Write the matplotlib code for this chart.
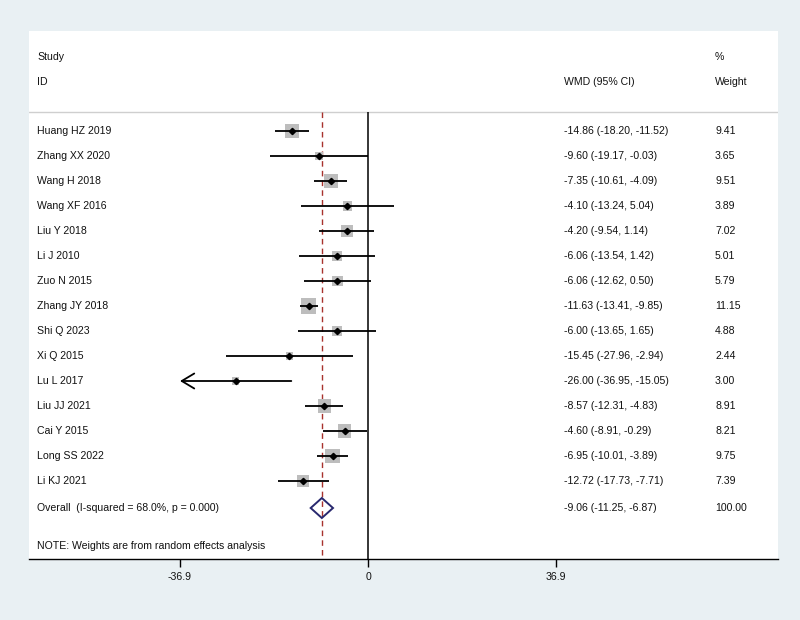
import numpy as np
import matplotlib
matplotlib.use("Agg")
import matplotlib.pyplot as plt
from matplotlib.patches import Polygon

plt.rcParams["font.family"] = ["Liberation Sans", "DejaVu Sans"]

# study data
studies = ["Huang HZ 2019", "Zhang XX 2020", "Wang H 2018", "Wang XF 2016",
           "Liu Y 2018", "Li J 2010", "Zuo N 2015", "Zhang JY 2018",
           "Shi Q 2023", "Xi Q 2015", "Lu L 2017", "Liu JJ 2021",
           "Cai Y 2015", "Long SS 2022", "Li KJ 2021"]
wmd = [-14.86, -9.60, -7.35, -4.10, -4.20, -6.06, -6.06, -11.63,
       -6.00, -15.45, -26.00, -8.57, -4.60, -6.95, -12.72]
ci_low = [-18.20, -19.17, -10.61, -13.24, -9.54, -13.54, -12.62, -13.41,
          -13.65, -27.96, -36.95, -12.31, -8.91, -10.01, -17.73]
ci_high = [-11.52, -0.03, -4.09, 5.04, 1.14, 1.42, 0.50, -9.85,
           1.65, -2.94, -15.05, -4.83, -0.29, -3.89, -7.71]
weights = [9.41, 3.65, 9.51, 3.89, 7.02, 5.01, 5.79, 11.15,
           4.88, 2.44, 3.00, 8.91, 8.21, 9.75, 7.39]

overall = -9.06
overall_low = -11.25
overall_high = -6.87
overall_label = "Overall  (I-squared = 68.0%, p = 0.000)"
note = "NOTE: Weights are from random effects analysis"
tick_vals = [-36.9, 0, 36.9]
tick_labels = ["-36.9", "0", "36.9"]

FS = 7.6
TC = "#111111"

fig = plt.figure(figsize=(8, 6.2), dpi=100, facecolor="#e9f0f3")
ax = fig.add_axes([29 / 800, 1 - 559 / 620, 749 / 800, 528 / 620])
ax.set_facecolor("white")

# x scale: 0 at 368px, 36.9 at 556px
ppu = 188 / 36.9
ax.set_xlim((29 - 368) / ppu, (778 - 368) / ppu)
# y rows: row r at 131 + 25 r px
ax.set_ylim((559 - 131) / 25, (31 - 131) / 25)

rows = np.arange(len(studies))
row_overall = (508 - 131) / 25
row_note = (546 - 131) / 25
row_sep = (112 - 131) / 25
bottom = ax.get_ylim()[0]

ax.axhline(row_sep, color="#cfcfcf", lw=1.0)
ax.vlines(0, row_sep, bottom, color="black", lw=1.1)
ax.vlines(overall, row_sep, bottom, color="#a8322d", lw=1.0,
          linestyles=(0, (4, 3)))

# weight squares
ax.scatter(wmd, rows, s=np.array(weights) * 10.8, marker="s",
           color="#bdbdbd", edgecolor="none", zorder=2)

xmin_tick = tick_vals[0]
for r, lo, hi in zip(rows, ci_low, ci_high):
    if lo < xmin_tick:
        ax.annotate("", xy=(xmin_tick, r), xytext=(hi, r),
                    arrowprops=dict(arrowstyle="->,head_length=0.5,head_width=0.3",
                                    lw=1.3, color="black", shrinkA=0, shrinkB=0,
                                    mutation_scale=18), zorder=3)
    else:
        ax.plot([lo, hi], [r, r], color="black", lw=1.3, zorder=3,
                solid_capstyle="butt")
ax.plot(wmd, rows, "D", color="black", markersize=3.2, zorder=4)

# overall diamond
dia = Polygon([(overall_low, row_overall), (overall, row_overall - 0.4),
               (overall_high, row_overall), (overall, row_overall + 0.4)],
              closed=True, facecolor="none", edgecolor="#28286e", lw=1.4,
              zorder=4)
ax.add_patch(dia)

# text columns
tr = ax.get_yaxis_transform()
x_lab = 8 / 749
x_ci = (564 - 29) / 749
x_w = (715 - 29) / 749
kw = dict(transform=tr, fontsize=FS, va="center", color=TC)
ax.text(x_lab, (57 - 131) / 25, "Study", **kw)
ax.text(x_lab, (82 - 131) / 25, "ID", **kw)
ax.text(x_ci, (82 - 131) / 25, "WMD (95% CI)", **kw)
ax.text(x_w, (57 - 131) / 25, "%", **kw)
ax.text(x_w, (82 - 131) / 25, "Weight", **kw)

for r, name, e, lo, hi, w in zip(rows, studies, wmd, ci_low, ci_high, weights):
    ax.text(x_lab, r, name, **kw)
    ax.text(x_ci, r, f"{e:.2f} ({lo:.2f}, {hi:.2f})", **kw)
    ax.text(x_w, r, f"{w:.2f}", **kw)

ax.text(x_lab, row_overall, overall_label, **kw)
ax.text(x_ci, row_overall, f"{overall:.2f} ({overall_low:.2f}, {overall_high:.2f})", **kw)
ax.text(x_w, row_overall, "100.00", **kw)
ax.text(x_lab, row_note, note, **kw)

# axis
for s in ["top", "left", "right"]:
    ax.spines[s].set_visible(False)
ax.spines["bottom"].set_linewidth(1.0)
ax.set_yticks([])
ax.set_xticks(tick_vals)
ax.set_xticklabels(tick_labels, fontsize=FS, color=TC)
ax.tick_params(axis="x", direction="out", length=6, width=1.0, pad=3)

fig.savefig("out.png", dpi=100, facecolor=fig.get_facecolor())
